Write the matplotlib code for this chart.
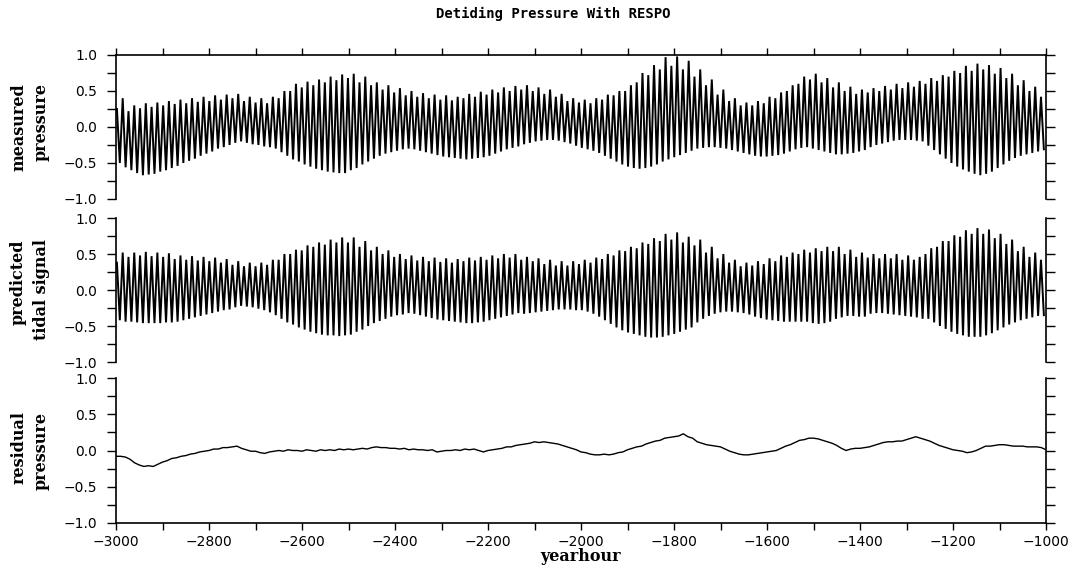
import numpy as np
import matplotlib
matplotlib.use("Agg")
import matplotlib.pyplot as plt
from matplotlib.ticker import MultipleLocator

# ---------------- data ----------------
X_START, X_END = -3000, -1000
M2_PERIOD = 12.42          # hours between successive high waters
FIRST_HIGH = -2998.0       # time of the first high water

measured_high = [
    0.25, 0.40, 0.22, 0.30, 0.26, 0.33, 0.28, 0.34, 0.30, 0.36,
    0.32, 0.38, 0.33, 0.40, 0.35, 0.42, 0.36, 0.44, 0.38, 0.45,
    0.40, 0.46, 0.36, 0.42, 0.34, 0.40, 0.33, 0.42, 0.40, 0.50,
    0.50, 0.60, 0.55, 0.63, 0.58, 0.66, 0.62, 0.70, 0.65, 0.73,
    0.68, 0.74, 0.62, 0.70, 0.58, 0.62, 0.52, 0.58, 0.48, 0.54,
    0.44, 0.50, 0.42, 0.47, 0.40, 0.45, 0.38, 0.44, 0.37, 0.42,
    0.40, 0.46, 0.42, 0.49, 0.45, 0.52, 0.48, 0.55, 0.50, 0.57,
    0.52, 0.58, 0.50, 0.55, 0.46, 0.52, 0.42, 0.46, 0.36, 0.40,
    0.34, 0.38, 0.33, 0.40, 0.38, 0.45, 0.44, 0.50, 0.50, 0.58,
    0.62, 0.75, 0.72, 0.86, 0.80, 0.97, 0.85, 0.98, 0.80, 0.92,
    0.70, 0.80, 0.58, 0.66, 0.45, 0.52, 0.36, 0.40, 0.30, 0.34,
    0.30, 0.36, 0.33, 0.42, 0.40, 0.48, 0.50, 0.58, 0.60, 0.70,
    0.66, 0.74, 0.62, 0.68, 0.55, 0.62, 0.50, 0.56, 0.46, 0.52,
    0.48, 0.54, 0.50, 0.57, 0.52, 0.60, 0.54, 0.62, 0.56, 0.64,
    0.60, 0.68, 0.64, 0.72, 0.70, 0.78, 0.75, 0.85, 0.78, 0.88,
    0.80, 0.86, 0.74, 0.82, 0.68, 0.74, 0.58, 0.65, 0.50, 0.56,
    0.42,
]
measured_low = [
    -0.50, -0.56, -0.60, -0.64, -0.67, -0.66, -0.65, -0.62, -0.60, -0.57,
    -0.54, -0.50, -0.47, -0.44, -0.40, -0.37, -0.34, -0.30, -0.28, -0.25,
    -0.22, -0.20, -0.22, -0.24, -0.25, -0.27, -0.28, -0.30, -0.35, -0.40,
    -0.45, -0.48, -0.52, -0.55, -0.58, -0.60, -0.62, -0.63, -0.64, -0.64,
    -0.60, -0.57, -0.52, -0.48, -0.44, -0.40, -0.37, -0.35, -0.33, -0.31,
    -0.30, -0.31, -0.33, -0.35, -0.37, -0.39, -0.41, -0.42, -0.43, -0.44,
    -0.45, -0.44, -0.43, -0.42, -0.40, -0.37, -0.34, -0.31, -0.29, -0.27,
    -0.24, -0.22, -0.20, -0.19, -0.18, -0.18, -0.19, -0.21, -0.23, -0.26,
    -0.29, -0.31, -0.33, -0.36, -0.40, -0.44, -0.48, -0.52, -0.55, -0.57,
    -0.58, -0.57, -0.55, -0.52, -0.48, -0.45, -0.42, -0.39, -0.36, -0.33,
    -0.30, -0.29, -0.28, -0.28, -0.29, -0.30, -0.32, -0.34, -0.36, -0.38,
    -0.40, -0.41, -0.41, -0.40, -0.39, -0.37, -0.34, -0.31, -0.29, -0.28,
    -0.30, -0.32, -0.34, -0.36, -0.38, -0.38, -0.37, -0.36, -0.34, -0.32,
    -0.28, -0.25, -0.23, -0.21, -0.19, -0.18, -0.18, -0.18, -0.19, -0.20,
    -0.26, -0.32, -0.38, -0.44, -0.50, -0.55, -0.59, -0.62, -0.65, -0.67,
    -0.65, -0.62, -0.57, -0.52, -0.47, -0.43, -0.40, -0.38, -0.36, -0.34,
    -0.31,
]
predicted_high = [
    0.38, 0.52, 0.46, 0.52, 0.48, 0.53, 0.47, 0.52, 0.46, 0.51,
    0.43, 0.48, 0.42, 0.47, 0.41, 0.46, 0.40, 0.45, 0.38, 0.43,
    0.35, 0.40, 0.33, 0.38, 0.33, 0.38, 0.35, 0.42, 0.42, 0.50,
    0.50, 0.56, 0.55, 0.62, 0.60, 0.66, 0.63, 0.70, 0.66, 0.73,
    0.66, 0.73, 0.60, 0.68, 0.55, 0.60, 0.50, 0.55, 0.46, 0.50,
    0.43, 0.48, 0.41, 0.46, 0.40, 0.45, 0.39, 0.44, 0.38, 0.43,
    0.40, 0.45, 0.41, 0.46, 0.42, 0.48, 0.44, 0.50, 0.45, 0.50,
    0.42, 0.46, 0.40, 0.44, 0.36, 0.42, 0.34, 0.40, 0.34, 0.40,
    0.36, 0.42, 0.38, 0.45, 0.43, 0.50, 0.48, 0.55, 0.54, 0.60,
    0.58, 0.66, 0.64, 0.72, 0.68, 0.78, 0.70, 0.80, 0.66, 0.74,
    0.62, 0.70, 0.52, 0.60, 0.44, 0.50, 0.38, 0.42, 0.33, 0.38,
    0.34, 0.40, 0.36, 0.44, 0.40, 0.48, 0.46, 0.52, 0.50, 0.56,
    0.52, 0.58, 0.54, 0.60, 0.54, 0.60, 0.50, 0.56, 0.46, 0.52,
    0.45, 0.50, 0.44, 0.50, 0.44, 0.50, 0.42, 0.48, 0.42, 0.46,
    0.50, 0.58, 0.60, 0.68, 0.68, 0.76, 0.74, 0.83, 0.78, 0.86,
    0.78, 0.84, 0.72, 0.78, 0.64, 0.70, 0.54, 0.60, 0.46, 0.52,
    0.42,
]
predicted_low = [
    -0.42, -0.44, -0.44, -0.45, -0.46, -0.46, -0.46, -0.46, -0.45, -0.45,
    -0.44, -0.42, -0.40, -0.38, -0.36, -0.34, -0.32, -0.30, -0.28, -0.27,
    -0.24, -0.22, -0.23, -0.24, -0.26, -0.28, -0.31, -0.35, -0.40, -0.45,
    -0.48, -0.52, -0.55, -0.58, -0.60, -0.62, -0.63, -0.63, -0.64, -0.63,
    -0.62, -0.58, -0.55, -0.50, -0.46, -0.43, -0.40, -0.37, -0.35, -0.34,
    -0.32, -0.33, -0.35, -0.37, -0.39, -0.41, -0.42, -0.43, -0.44, -0.45,
    -0.46, -0.46, -0.45, -0.44, -0.42, -0.40, -0.38, -0.36, -0.34, -0.32,
    -0.33, -0.32, -0.31, -0.30, -0.29, -0.28, -0.27, -0.27, -0.27, -0.28,
    -0.28, -0.30, -0.33, -0.37, -0.42, -0.47, -0.52, -0.56, -0.59, -0.61,
    -0.63, -0.65, -0.66, -0.66, -0.65, -0.63, -0.61, -0.58, -0.55, -0.52,
    -0.45, -0.40, -0.36, -0.33, -0.31, -0.30, -0.30, -0.31, -0.32, -0.34,
    -0.37, -0.39, -0.41, -0.42, -0.43, -0.44, -0.44, -0.44, -0.44, -0.44,
    -0.46, -0.47, -0.46, -0.44, -0.40, -0.38, -0.36, -0.36, -0.37, -0.37,
    -0.33, -0.32, -0.32, -0.33, -0.34, -0.35, -0.36, -0.37, -0.38, -0.40,
    -0.40, -0.45, -0.50, -0.54, -0.58, -0.61, -0.63, -0.65, -0.65, -0.65,
    -0.63, -0.60, -0.56, -0.52, -0.48, -0.45, -0.42, -0.40, -0.38, -0.36,
    -0.35,
]
RESIDUAL_STEP = 10  # hours between residual samples, starting at X_START
residual = [
    -0.08, -0.08, -0.09, -0.12, -0.17, -0.20, -0.22, -0.21, -0.22, -0.19,
    -0.16, -0.14, -0.11, -0.10, -0.08, -0.07, -0.05, -0.04, -0.02, -0.01,
    0.00, 0.02, 0.02, 0.04, 0.04, 0.05, 0.06, 0.03, 0.01, -0.01,
    -0.01, -0.03, -0.04, -0.02, -0.01, 0.00, -0.01, 0.01, 0.00, 0.00,
    -0.01, 0.01, 0.00, -0.01, 0.01, 0.00, 0.01, 0.00, 0.02, 0.01,
    0.02, 0.01, 0.02, 0.03, 0.02, 0.04, 0.05, 0.04, 0.04, 0.03,
    0.03, 0.02, 0.03, 0.01, 0.02, 0.01, 0.01, 0.00, 0.01, -0.02,
    -0.01, 0.00, 0.00, 0.01, 0.00, 0.02, 0.01, 0.02, 0.00, -0.02,
    0.00, 0.01, 0.02, 0.03, 0.05, 0.05, 0.07, 0.08, 0.09, 0.10,
    0.12, 0.11, 0.12, 0.11, 0.10, 0.09, 0.07, 0.05, 0.03, 0.01,
    -0.02, -0.03, -0.05, -0.06, -0.06, -0.05, -0.06, -0.05, -0.03, -0.02,
    0.01, 0.03, 0.05, 0.06, 0.09, 0.11, 0.13, 0.14, 0.17, 0.18,
    0.19, 0.20, 0.23, 0.19, 0.17, 0.12, 0.10, 0.08, 0.07, 0.06,
    0.05, 0.02, -0.01, -0.03, -0.05, -0.06, -0.06, -0.05, -0.04, -0.03,
    -0.02, -0.01, 0.00, 0.03, 0.06, 0.08, 0.11, 0.14, 0.15, 0.17,
    0.17, 0.16, 0.14, 0.12, 0.10, 0.07, 0.03, 0.00, 0.02, 0.03,
    0.03, 0.04, 0.05, 0.07, 0.09, 0.11, 0.12, 0.12, 0.13, 0.13,
    0.15, 0.17, 0.19, 0.17, 0.15, 0.13, 0.10, 0.07, 0.05, 0.03,
    0.01, 0.00, -0.01, -0.03, -0.02, 0.00, 0.03, 0.06, 0.06, 0.07,
    0.08, 0.08, 0.07, 0.06, 0.06, 0.06, 0.05, 0.05, 0.05, 0.04,
    0.01,
]

panel_labels = ["measured\npressure", "predicted\ntidal signal", "residual\npressure"]
title_text = "Detiding Pressure With RESPO"
x_label = "yearhour"


def zigzag(highs, lows):
    n = len(highs)
    t_high = FIRST_HIGH + M2_PERIOD * np.arange(n)
    t_low = t_high + M2_PERIOD / 2.0
    x = np.column_stack([t_high, t_low]).ravel()
    y = np.column_stack([highs, lows]).ravel()
    return x, y


# ---------------- figure ----------------
W, H = 1074, 582
fig = plt.figure(figsize=(W / 100, H / 100), dpi=100)

left = 116 / W
width = (1046 - 116) / W
panels_px = [(55, 199), (218, 362), (378, 523)]

axes = []
for top_px, bot_px in panels_px:
    ax = fig.add_axes([left, 1 - bot_px / H, width, (bot_px - top_px) / H])
    axes.append(ax)

series = [
    zigzag(measured_high, measured_low),
    zigzag(predicted_high, predicted_low),
    (X_START + RESIDUAL_STEP * np.arange(len(residual)), np.array(residual)),
]

serif = "DejaVu Serif"
for i, (ax, (x, y), lab) in enumerate(zip(axes, series, panel_labels)):
    lw = 1.4 if i < 2 else 1.0
    ax.plot(x, y, color="black", lw=lw, solid_joinstyle="miter")
    ax.set_xlim(X_START, X_END)
    ax.set_ylim(-1.0, 1.0)
    ax.yaxis.set_major_locator(MultipleLocator(0.5))
    ax.yaxis.set_minor_locator(MultipleLocator(0.25))
    ax.xaxis.set_major_locator(MultipleLocator(200))
    ax.xaxis.set_minor_locator(MultipleLocator(100))
    ax.yaxis.set_major_formatter(plt.FuncFormatter(lambda v, p: f"{v:.1f}".replace("-", "\u2212")))
    ax.tick_params(axis="y", which="both", direction="out", length=6.5, width=1.0,
                   left=True, right=True, labelright=False, labelsize=10, pad=7)
    for s in ax.spines.values():
        s.set_linewidth(1.2)
    ax.spines["left"].set_visible(True)
    ax.spines["right"].set_visible(True)
    ax.spines["top"].set_visible(i == 0)
    ax.spines["bottom"].set_visible(i == 2)
    if i == 0:
        ax.tick_params(axis="x", which="both", direction="out", length=5, width=1.0,
                       top=True, bottom=False, labeltop=False, labelbottom=False)
    elif i == 1:
        ax.tick_params(axis="x", which="both", top=False, bottom=False,
                       labeltop=False, labelbottom=False)
    else:
        ax.tick_params(axis="x", which="both", direction="out", length=5, width=1.0,
                       top=False, bottom=True, labelbottom=True, labelsize=10, pad=4)
        ax.xaxis.set_major_formatter(plt.FuncFormatter(lambda v, p: f"{int(round(v))}".replace("-", "\u2212")))
    ax.set_ylabel(lab, fontfamily=serif, fontweight="bold", fontsize=11.5,
                  linespacing=1.45, multialignment="right")
    ax.yaxis.set_label_coords(-0.071, 0.5)

axes[2].set_xlabel(x_label, fontfamily=serif, fontweight="bold", fontsize=11.5)
axes[2].xaxis.set_label_coords(0.5, -0.175)

fig.text(553 / W, 1 - 14 / H, title_text, ha="center", va="center",
         fontfamily="DejaVu Sans Mono", fontweight="bold", fontsize=10)

fig.savefig("out.png", dpi=100, facecolor="white")
